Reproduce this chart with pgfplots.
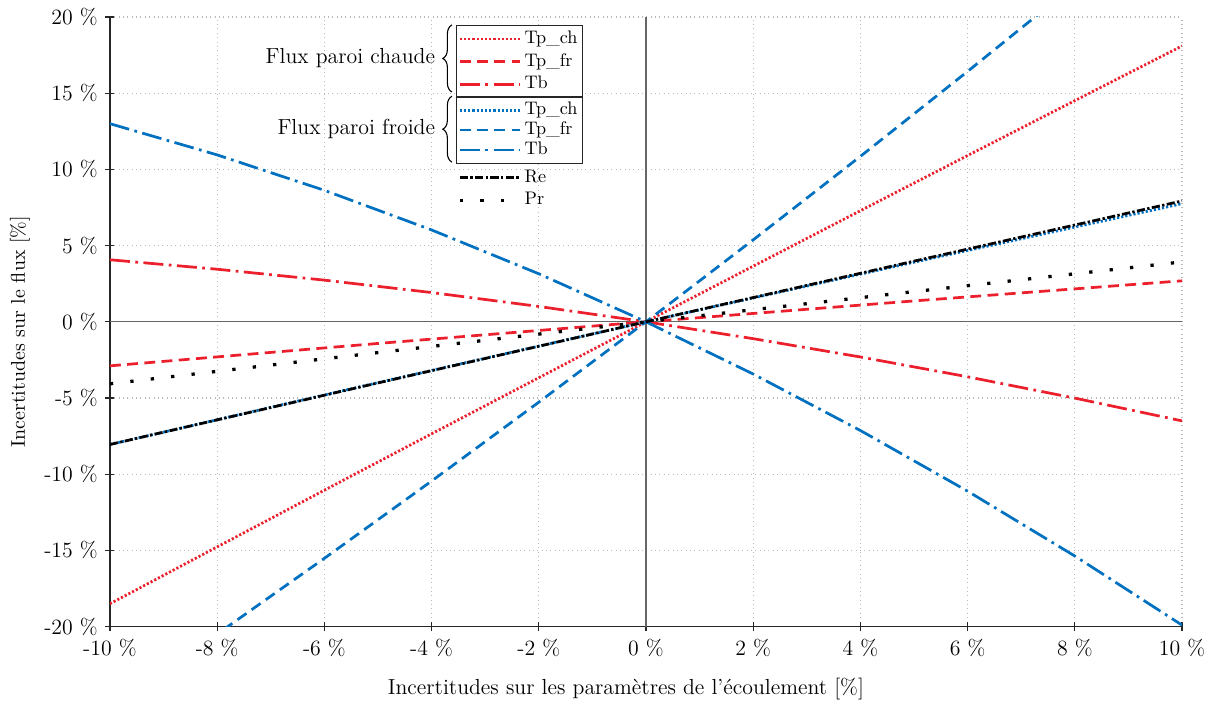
\documentclass[border=0pt,12pt]{standalone}
\usepackage{pgfplots}
\pgfplotsset{compat=1.18}
\usetikzlibrary{decorations.pathreplacing}
\definecolor{myred}{RGB}{236,32,44}
\definecolor{myblue}{RGB}{0,112,192}
\pgfplotsset{
 base/.style={scale only axis, width=590pt, height=335.5pt, xmin=-10,xmax=10,ymin=-20,ymax=20, clip=true, at={(0,0)}, anchor=south west},
 hid/.style={base, axis lines=none, ticks=none},
 Tpch/.style={line width=1.5pt, dash pattern=on 1.2pt off 1.1pt},
 Tpfr/.style={line width=1.5pt, dash pattern=on 6pt off 3.5pt},
 Tb/.style={line width=1.5pt, dash pattern=on 11pt off 3pt on 1.5pt off 3pt},
 Re/.style={line width=1.5pt, dash pattern=on 4.5pt off 1.3pt on 1.3pt off 1.3pt},
 Pr/.style={line width=1.8pt, dash pattern=on 1.8pt off 9.5pt},
 legimg/.style={legend image code/.code={\draw[##1] (0pt,0pt) -- (33pt,0pt);}},
 legbase/.style={legimg, legend cell align=left, legend style={anchor=north west, inner sep=1pt, row sep=0pt, font=\fontsize{10}{12}\selectfont, nodes={inner sep=1.8pt, text height=7pt, text depth=1.9pt}}},
}
\begin{document}
\begin{tikzpicture}
\path[use as bounding box] (-60.5pt,-43.45pt) rectangle (608.15pt,344.85pt);
% red series + frame
\begin{axis}[base,
  axis x line*=bottom, axis y line*=left, axis line style={-, black!85, line width=0.7pt},
  tick align=center, major tick length=5pt, tick style={black!85, line width=0.7pt},
  grid=major, major grid style={gray!55, dotted, line width=0.7pt},
  xtick={-10,-8,...,10}, ytick={-20,-15,...,20},
  xticklabels={-10~\%,-8~\%,-6~\%,-4~\%,-2~\%,0~\%,2~\%,4~\%,6~\%,8~\%,10~\%},
  yticklabels={-20~\%,-15~\%,-10~\%,-5~\%,0~\%,5~\%,10~\%,15~\%,20~\%},
  xlabel={Incertitudes sur les param\`etres de l'\'ecoulement [\%]},
  ylabel={Incertitudes sur le flux [\%]},
  xlabel style={at={(axis description cs:0.4813,-0.103)}, anchor=center},
  ylabel style={at={(axis description cs:-0.0839,0.4836)}, anchor=center, font=\small},
  legbase, legend style={at={(0.3228,0.9869)}, draw=black!85, thick},
]
\draw[black!60, line width=0.7pt] (axis cs:0,-20) -- (axis cs:0,20);
\draw[black!60, line width=0.7pt] (axis cs:-10,0) -- (axis cs:10,0);
\addplot[myred, Tpch] coordinates {(-10,-18.5) (-8,-14.77) (-6,-11.05) (-4,-7.35) (-2,-3.67) (0,0) (2,3.65) (4,7.29) (6,10.91) (8,14.51) (10,18.1)};
\addplot[myred, Tpfr] coordinates {(-10,-2.89) (-5,-1.42) (0,0) (5,1.37) (10,2.69)};
\addplot[myred, Tb] coordinates {(-10,4.07) (-8,3.45) (-6,2.734) (-4,1.92) (-2,1.008) (0,0) (2,-1.106) (4,-2.308) (6,-3.608) (8,-5.006) (10,-6.5)};
\legend{Tp\_ch,Tp\_fr,Tb}
\draw[decorate, decoration={brace, amplitude=5pt}, line width=0.6pt] (rel axis cs:0.319,0.877) -- (rel axis cs:0.319,0.987) node[midway, left=5pt] {Flux paroi chaude};
\draw[decorate, decoration={brace, amplitude=5pt}, line width=0.6pt] (rel axis cs:0.319,0.762) -- (rel axis cs:0.319,0.870) node[midway, left=5pt] {Flux paroi froide};
\end{axis}
% blue series
\begin{axis}[hid, legbase, legend style={at={(0.3228,0.870)}, draw=black!85, thick, row sep=-1.5pt}]
\addplot[myblue, Tpch] coordinates {(-10,-8.05) (-5,-3.99) (0,0) (5,3.91) (10,7.75)};
\addplot[myblue, Tpfr] coordinates {(-10,-25.36) (-8,-20.49) (-6,-15.52) (-4,-10.45) (-2,-5.275) (0,0) (2,5.377) (4,10.855) (6,16.43) (8,22.11) (10,27.9)};
\addplot[myblue, Tb] coordinates {(-10,13.0) (-8,10.952) (-6,8.628) (-4,6.028) (-2,3.152) (0,0) (2,-3.428) (4,-7.132) (6,-11.112) (8,-15.368) (10,-19.9)};
\legend{Tp\_ch,Tp\_fr,Tb}
\end{axis}
% Re, Pr
\begin{axis}[hid, legbase, legend style={at={(0.3228,0.759)}, draw=none, fill=none}]
\addplot[black, Re] coordinates {(-10,-8.05) (-5,-4.01) (0,0) (5,3.98) (10,7.93)};
\addplot[black, Pr] coordinates {(-10,-4.07) (-5,-2.02) (0,0) (5,1.98) (10,3.93)};
\legend{Re,Pr}
\end{axis}
\end{tikzpicture}
\end{document}
